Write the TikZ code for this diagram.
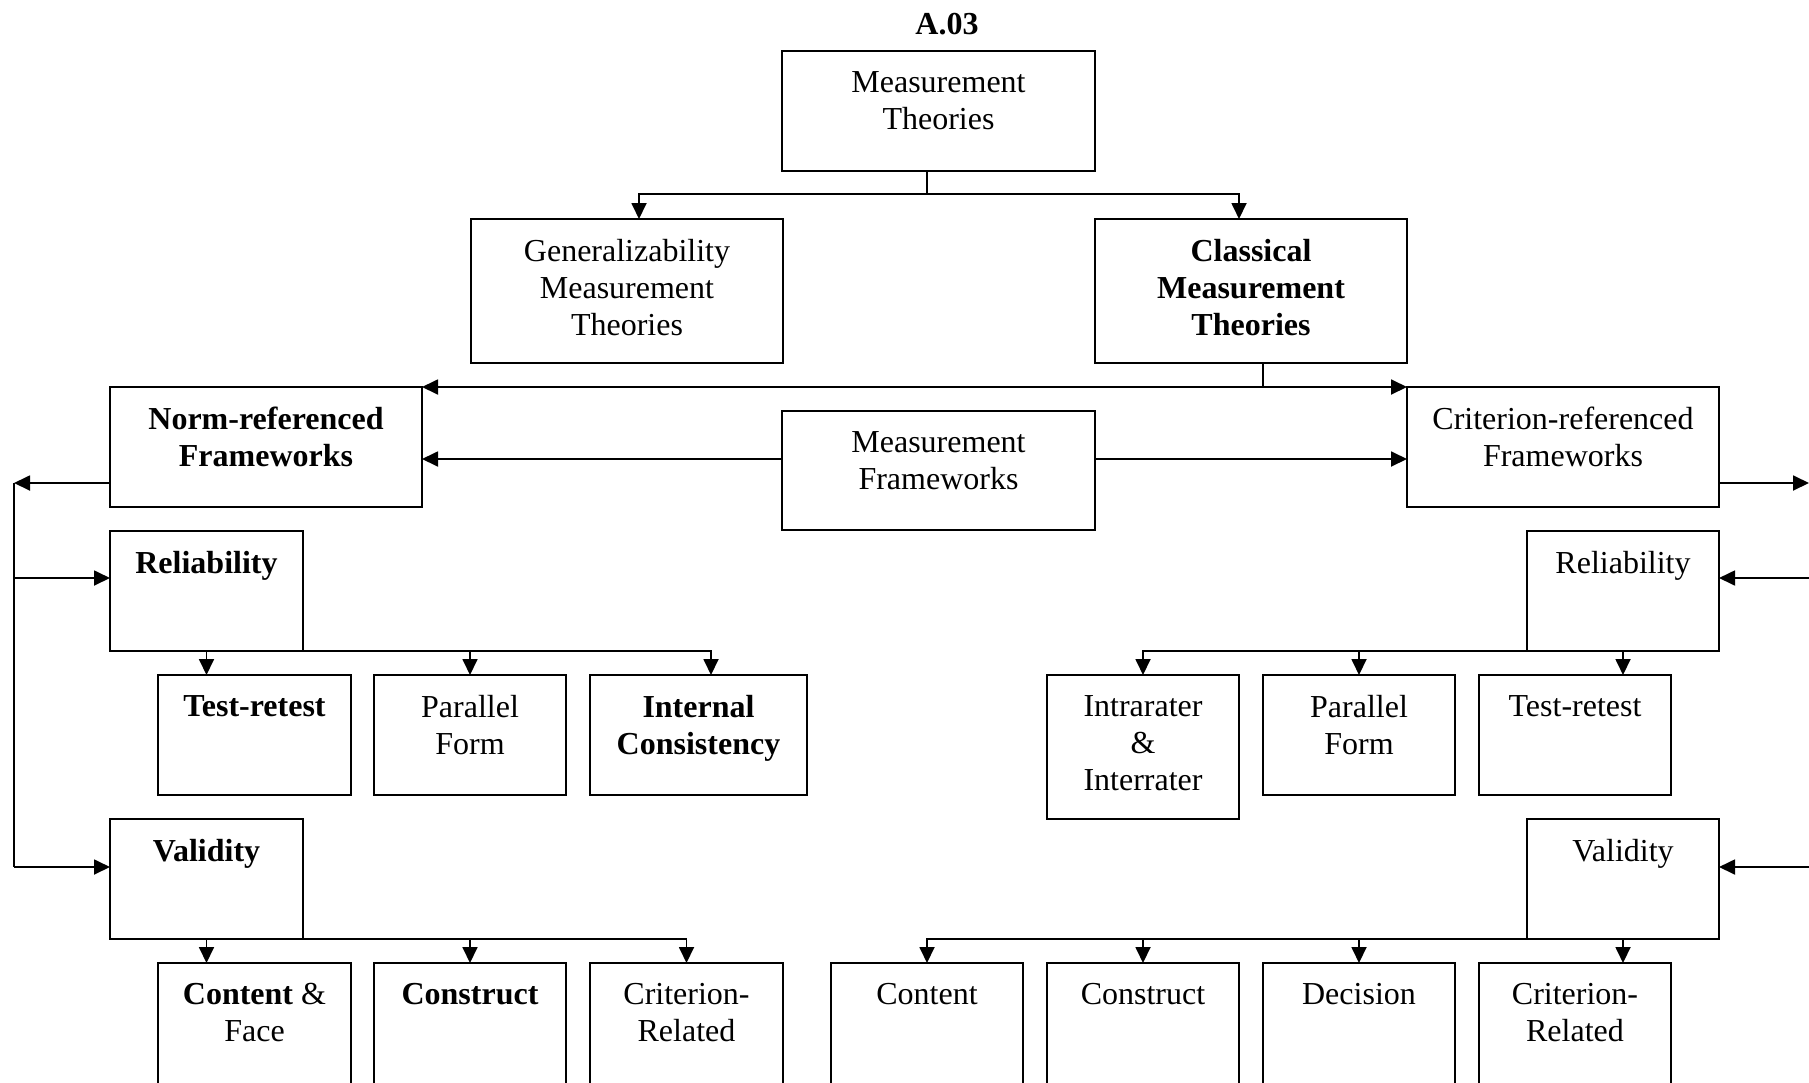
\documentclass[tikz,border=0pt]{standalone}
\usepackage{fontspec}
\setmainfont{Liberation Serif}
\usetikzlibrary{arrows.meta}
% \bx[label style]{name}{x1}{y1}{x2}{y2}{text}: framed box with its text set near the top
\newcommand\bx[7][]{%
  \node[box,minimum width={(#5-#3)*0.5pt},minimum height={(#6-#4)*0.5pt}] (#2) at (#3,#4) {};
  \node[lbl,#1] (#2-t) at ([yshift=-10pt]#2.north) {#7};}
\begin{document}
\begin{tikzpicture}[x=0.5pt,y=-0.5pt,
  ln/.style={line width=0.9pt},
  arr/.style={ln,-{Triangle[length=8pt,width=7.5pt]}},
  box/.style={draw,line width=0.9pt,inner sep=0pt,outer sep=0pt,anchor=north west},
  lbl/.style={anchor=north,align=center,inner sep=0pt,font=\fontsize{16}{18.5}\selectfont},
  bold/.style={font=\fontsize{16}{18.5}\selectfont\bfseries}]
\useasboundingbox (0,0) rectangle (1809,1082);
\clip (0,0) rectangle (1809,1082);

\node[lbl,bold,anchor=base] (title) at (947,34) {A.03};

% theories
\bx{mt}{782}{51}{1095}{171}{Measurement\\Theories}
\bx{gen}{471}{219}{783}{363}{Generalizability\\Measurement\\Theories}
\bx[bold]{cls}{1095}{219}{1407}{363}{Classical\\Measurement\\Theories}

% frameworks
\bx[bold]{nrf}{110}{387}{422}{507}{Norm-referenced\\Frameworks}
\bx{mf}{782}{411}{1095}{530}{Measurement\\Frameworks}
\bx{crf}{1407}{387}{1719}{507}{Criterion-referenced\\Frameworks}

% norm-referenced branch
\bx[bold]{relL}{110}{531}{303}{651}{Reliability}
\bx[bold]{trL}{158}{675}{351}{795}{Test-retest}
\bx{pfL}{374}{675}{566}{795}{Parallel\\Form}
\bx[bold]{icL}{590}{675}{807}{795}{Internal\\Consistency}
\bx[bold]{valL}{110}{819}{303}{939}{Validity}
\bx{cfL}{158}{963}{351}{1163}{\textbf{Content} \&\\Face}
\bx[bold]{coL}{374}{963}{566}{1163}{Construct}
\bx{crL}{590}{963}{783}{1163}{Criterion-\\Related}

% criterion-referenced branch
\bx{relR}{1527}{531}{1719}{651}{Reliability}
\bx{irR}{1047}{675}{1239}{819}{Intrarater\\\&\\Interrater}
\bx{pfR}{1263}{675}{1455}{795}{Parallel\\Form}
\bx{trR}{1479}{675}{1671}{795}{Test-retest}
\bx{valR}{1527}{819}{1719}{939}{Validity}
\bx{ctR}{831}{963}{1023}{1163}{Content}
\bx{csR}{1047}{963}{1239}{1163}{Construct}
\bx{deR}{1263}{963}{1455}{1163}{Decision}
\bx{cdR}{1479}{963}{1671}{1163}{Criterion-\\Related}

% theories split
\draw[ln] ([xshift=-5.75pt]mt.south) -- ++(0,23) coordinate (mtj);
\draw[arr] (mtj) -| ([xshift=6pt]gen.north);
\draw[arr] (mtj) -| ([xshift=-6pt]cls.north);

% classical theories to both frameworks
\draw[ln] ([xshift=6pt]cls.south) -- ++(0,24) coordinate (clj);
\draw[arr] (clj) -- (clj -| nrf.east);
\draw[arr] (clj) -- (clj -| crf.west);

% measurement frameworks to both sides
\coordinate (mfl) at ([yshift=5.75pt]mf.west);
\coordinate (mfr) at ([yshift=5.75pt]mf.east);
\draw[arr] (mfl) -- (mfl -| nrf.east);
\draw[arr] (mfr) -- (mfr -| crf.west);

% left bus
\draw[arr] ([yshift=-18pt]nrf.west) -- ++(-96,0) coordinate (lbus);
\coordinate (relLin) at ([yshift=6.5pt]relL.west);
\coordinate (valLin) at ([yshift=6pt]valL.west);
\draw[ln] (lbus) -- (lbus |- valLin);
\draw[arr] (lbus |- relLin) -- (relLin);
\draw[arr] (lbus |- valLin) -- (valLin);

% right bus
\draw[arr] ([yshift=-18pt]crf.east) -- ++(90,0) coordinate (rbus);
\coordinate (relRin) at ([yshift=6.5pt]relR.east);
\coordinate (valRin) at ([yshift=6pt]valR.east);
\draw[arr] (rbus |- relRin) -- (relRin);
\draw[arr] (rbus |- valRin) -- (valRin);

% left reliability and validity types
\draw[arr] (relL.south) -- (relL.south |- trL.north);
\draw[arr] (relL.south) -| (pfL.north);
\draw[arr] (relL.south) -| ([xshift=6.25pt]icL.north);
\draw[arr] (valL.south) -- (valL.south |- cfL.north);
\draw[arr] (valL.south) -| (coL.north);
\draw[arr] (valL.south) -| (crL.north);

% right reliability and validity types
\draw[arr] (relR.south) -| (irR.north);
\draw[arr] (relR.south) -| (pfR.north);
\draw[arr] (relR.south) -- (relR.south |- trR.north);
\draw[arr] (valR.south) -| (ctR.north);
\draw[arr] (valR.south) -| (csR.north);
\draw[arr] (valR.south) -| (deR.north);
\draw[arr] (valR.south) -- (valR.south |- cdR.north);
\end{tikzpicture}
\end{document}
